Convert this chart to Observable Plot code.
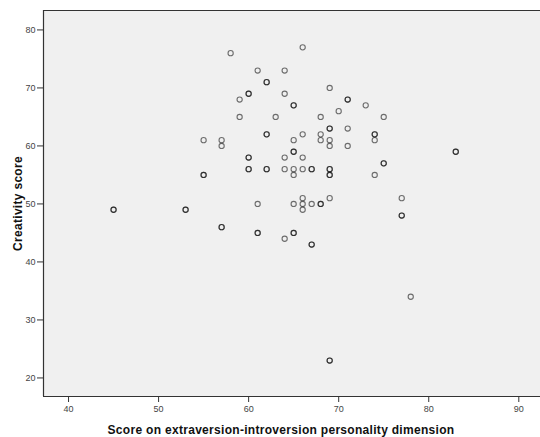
<!DOCTYPE html>
<html>
<head>
<meta charset="utf-8">
<script src="https://cdn.jsdelivr.net/npm/d3@7"></script>
<script src="https://cdn.jsdelivr.net/npm/@observablehq/plot@0.6"></script>
<style>
  html, body { margin: 0; padding: 0; background: #fff; }
  #chart svg { display: block; }
</style>
</head>
<body>
<div id="chart"></div>
<script>
// Extraversion score (x) and creativity score (y); repeated pairs are overlapping cases
const extraversion = [
  58, 66, 61, 64, 62, 62, 60, 60, 59, 64, 69, 65, 65, 71, 71, 73, 70, 59, 63, 68, 75,
  69, 69, 71, 55, 57, 57, 62, 62, 66, 65, 68, 68, 69, 69, 71, 74, 74, 74,
  60, 60, 64, 65, 65, 66, 83, 83, 75, 75,
  55, 55, 60, 60, 62, 62, 64, 65, 65, 66, 67, 67, 69, 69, 69, 69, 74,
  61, 65, 66, 66, 66, 67, 68, 68, 69, 77,
  45, 45, 53, 53, 57, 57, 61, 61, 64, 65, 65, 67, 67, 77, 77, 78, 69, 69
];
const creativity = [
  76, 77, 73, 73, 71, 71, 69, 69, 68, 69, 70, 67, 67, 68, 68, 67, 66, 65, 65, 65, 65,
  63, 63, 63, 61, 61, 60, 62, 62, 62, 61, 62, 61, 61, 60, 60, 62, 62, 61,
  58, 58, 58, 59, 59, 58, 59, 59, 57, 57,
  55, 55, 56, 56, 56, 56, 56, 56, 55, 56, 56, 56, 56, 56, 55, 55, 55,
  50, 50, 51, 50, 49, 50, 50, 50, 51, 51,
  49, 49, 49, 49, 46, 46, 45, 45, 44, 45, 45, 43, 43, 48, 48, 34, 23, 23
];
const xTicks = [40, 50, 60, 70, 80, 90];
const yTicks = [20, 30, 40, 50, 60, 70, 80];
const xDomain = [37.22, 92.41];
const yDomain = [16.8, 83.35];
const xTitle = "Score on extraversion-introversion personality dimension";
const yTitle = "Creativity score";

const data = extraversion.map((x, i) => ({x, y: creativity[i]}));

const chart = Plot.plot({
  width: 540,
  height: 437,
  marginLeft: 43,
  marginRight: 0,
  marginTop: 10,
  marginBottom: 41,
  style: {fontFamily: "'Liberation Sans', Arial, sans-serif", fontSize: "9px", color: "#333", background: "#fff"},
  x: {domain: xDomain},
  y: {domain: yDomain},
  marks: [
    Plot.frame({fill: "#f0f0f0", stroke: "none"}),
    Plot.ruleX([xDomain[0]], {stroke: "#333", strokeWidth: 1.2}),
    Plot.ruleY([yDomain[0]], {stroke: "#333", strokeWidth: 1.2}),
    Plot.ruleY([yDomain[1]], {stroke: "#333", strokeWidth: 1.2}),
    Plot.axisX({ticks: xTicks, tickSize: 6, tickPadding: 3, stroke: "#333", fill: "#444",
      label: xTitle, labelAnchor: "center", labelArrow: "none", labelOffset: 37}),
    Plot.axisY({ticks: yTicks, tickSize: 6, tickPadding: 2, stroke: "#333", fill: "#444",
      label: yTitle, labelAnchor: "center", labelArrow: "none", labelOffset: 30}),
    Plot.dot(data, {x: "x", y: "y", r: 2.6, stroke: "#000", strokeOpacity: 0.55, strokeWidth: 1.1, fill: "none"})
  ]
});

document.getElementById("chart").appendChild(chart);

// Axis titles: bold, larger
chart.querySelectorAll('[aria-label="x-axis label"] text, [aria-label="y-axis label"] text').forEach(t => {
  t.setAttribute("font-weight", "bold");
  t.setAttribute("font-size", "12px");
  t.setAttribute("fill", "#111");
  t.style.letterSpacing = "0.3px";
});
const xl = chart.querySelector('[aria-label="x-axis label"] text');
if (xl) xl.setAttribute("dx", "-11");
</script>
</body>
</html>
